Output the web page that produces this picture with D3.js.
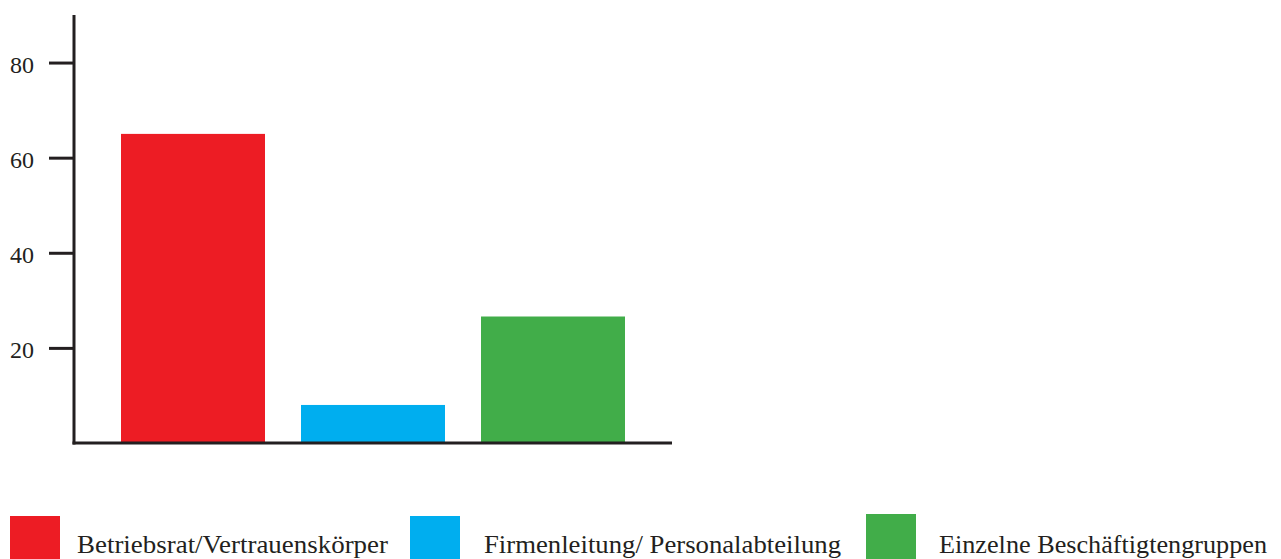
<!DOCTYPE html>
<html>
<head>
<meta charset="utf-8">
<script src="https://cdn.jsdelivr.net/npm/d3@7"></script>
<style>
  html, body { margin: 0; padding: 0; background: #fff; }
  svg { display: block; }
  text { font-family: "Liberation Serif", "Times New Roman", serif; fill: #231f20; }
</style>
</head>
<body>
<svg id="chart" width="1281" height="559"></svg>
<script>
const categories = ["Betriebsrat/Vertrauenskörper", "Firmenleitung/ Personalabteilung", "Einzelne Beschäftigtengruppen"];
const values = [65, 8, 26.6];
const colors = ["#ed1c24", "#00aeef", "#41ad49"];
const tickValues = [20, 40, 60, 80];

const svg = d3.select("#chart");
const axisColor = "#231f20";

const x0 = 74, x1 = 672, yBase = 443, yTop = 15;

const y = d3.scaleLinear().domain([0, 90]).range([yBase, yTop]);
const x = d3.scaleBand().domain(categories)
  .range([x0 + 47, x1 - 47]).paddingInner(0.2).paddingOuter(0);

// bars
svg.append("g").selectAll("rect").data(categories).join("rect")
  .attr("x", d => x(d))
  .attr("width", x.bandwidth())
  .attr("y", (d, i) => y(values[i]))
  .attr("height", (d, i) => y(0) - y(values[i]))
  .attr("fill", (d, i) => colors[i]);

// y axis
const yAxis = d3.axisLeft(y).tickValues(tickValues).tickSize(25).tickPadding(15).tickSizeOuter(0);
const gy = svg.append("g").attr("transform", `translate(${x0},0)`).call(yAxis);
gy.select(".domain").remove();
gy.selectAll(".tick line").attr("stroke", axisColor).attr("stroke-width", 3);
gy.selectAll(".tick text").attr("font-size", 24).attr("fill", axisColor)
  .attr("font-family", '"Liberation Serif", serif').attr("dy", "0.42em")
  .attr("textLength", 24).attr("lengthAdjust", "spacingAndGlyphs");
svg.append("line").attr("x1", x0).attr("x2", x0).attr("y1", yTop).attr("y2", yBase + 1.5)
  .attr("stroke", axisColor).attr("stroke-width", 3);
svg.append("line").attr("x1", x0 - 1.5).attr("x2", x1).attr("y1", yBase).attr("y2", yBase)
  .attr("stroke", axisColor).attr("stroke-width", 3);

// legend
const legendX = [10, 410, 866];
const textX = [77, 484, 939];
const legendWidths = [311, 357, 328];
const lg = svg.append("g");
categories.forEach((c, i) => {
  lg.append("rect").attr("x", legendX[i]).attr("y", i === 2 ? 514 : 516)
    .attr("width", 50).attr("height", 50).attr("fill", colors[i]);
  lg.append("text").attr("x", textX[i]).attr("y", 553)
    .attr("font-size", 26)
    .attr("textLength", legendWidths[i]).attr("lengthAdjust", "spacingAndGlyphs")
    .text(c);
});
</script>
</body>
</html>
